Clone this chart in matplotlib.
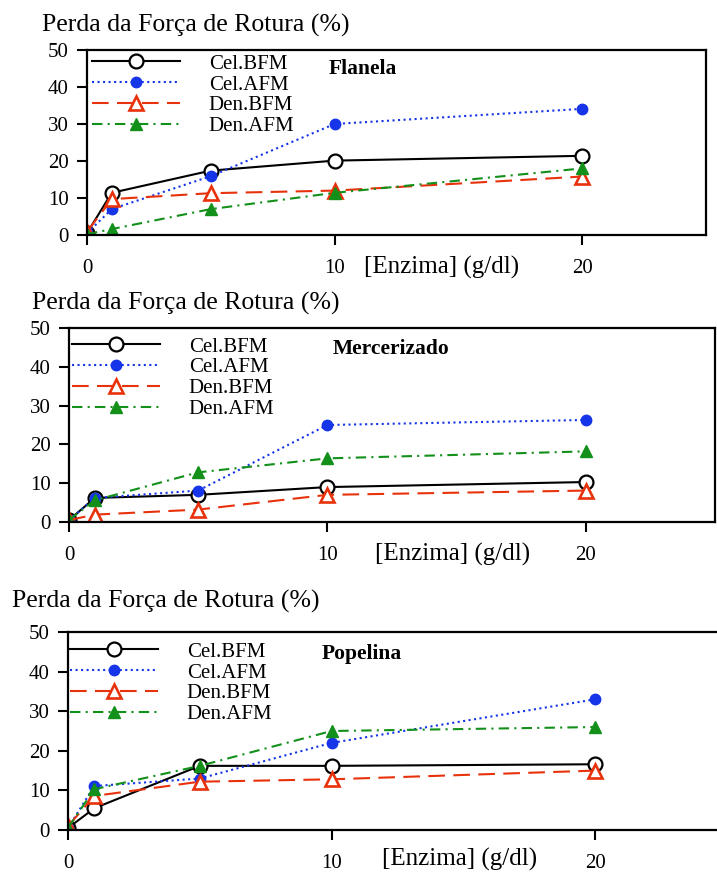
import matplotlib.pyplot as plt

plt.rcParams['font.family'] = ['Liberation Serif', 'DejaVu Serif']

W, H = 717, 873

dose = [0, 1, 5, 10, 20]
labels = ['Cel.BFM', 'Cel.AFM', 'Den.BFM', 'Den.AFM']
x_ticks = [0, 10, 20]
y_ticks = [0, 10, 20, 30, 40, 50]

flanela_cel_bfm = [0.5, 11.4, 17.4, 20.1, 21.4]
flanela_cel_afm = [0.5, 7.0, 15.9, 30.0, 34.1]
flanela_den_bfm = [0.9, 9.7, 11.3, 12.0, 15.8]
flanela_den_afm = [0.2, 1.6, 7.0, 11.4, 18.0]

merc_cel_bfm = [0.5, 6.2, 7.0, 9.0, 10.3]
merc_cel_afm = [0.5, 6.2, 8.1, 25.0, 26.3]
merc_den_bfm = [0.5, 1.9, 3.2, 7.0, 8.1]
merc_den_afm = [0.5, 5.6, 12.8, 16.4, 18.2]

pop_cel_bfm = [0.5, 5.5, 16.2, 16.2, 16.6]
pop_cel_afm = [0.5, 11.1, 13.0, 22.0, 33.0]
pop_den_bfm = [1.0, 8.6, 12.2, 12.8, 15.0]
pop_den_afm = [0.5, 10.3, 16.2, 25.0, 26.0]

styles = [
    dict(color='black', ls='-', marker='o', mfc='white', ms=10, mew=1.6),
    dict(color='#1634e8', ls=':', marker='o', ms=7.5),
    dict(color='#e8320c', ls=(0, (8, 4)), marker='^', mfc='white', ms=10, mew=1.9),
    dict(color='#12901a', ls=(0, (5, 2.5, 1, 2.5)), marker='^', ms=8),
]

# panel geometry in pixels: axes box (l, t, r, b), title, tag, legend, x label
panels = [
    dict(series=[flanela_cel_bfm, flanela_cel_afm, flanela_den_bfm, flanela_den_afm],
         name='Flanela', box=(87, 50, 706, 235), title=(42, 25), tag=(329, 69),
         leg=(90, 52), xlab=(442, 267)),
    dict(series=[merc_cel_bfm, merc_cel_afm, merc_den_bfm, merc_den_afm],
         name='Mercerizado', box=(69, 328, 715, 522), title=(32, 303), tag=(333, 349),
         leg=(70, 335), xlab=(453, 554)),
    dict(series=[pop_cel_bfm, pop_cel_afm, pop_den_bfm, pop_den_afm],
         name='Popelina', box=(68, 632, 727, 830), title=(12, 601), tag=(322, 654),
         leg=(68, 640), xlab=(460, 859)),
]

fig = plt.figure(figsize=(W / 100, H / 100), dpi=100)

for p in panels:
    l, t, r, b = p['box']
    ax = fig.add_axes([l / W, 1 - b / H, (r - l) / W, (b - t) / H])
    for vals, lab, st in zip(p['series'], labels, styles):
        ax.plot(dose, vals, label=lab, lw=1.5, **st)
    ax.set_xlim(0, 25)
    ax.set_ylim(0, 50)
    ax.set_xticks(x_ticks)
    ax.set_yticks(y_ticks)
    ax.tick_params(axis='y', direction='out', length=7, width=1.5, pad=6, labelsize=15)
    ax.tick_params(axis='x', direction='out', length=7, width=1.5, pad=10, labelsize=15)
    for s in ax.spines.values():
        s.set_linewidth(1.6)
    xx, xy = p['xlab']
    fig.text(xx / W, 1 - xy / H, '[Enzima] (g/dl)', ha='center', va='center', fontsize=18)
    tx, ty = p['title']
    fig.text(tx / W, 1 - ty / H, 'Perda da Força de Rotura (%)', fontsize=18.5,
             ha='left', va='center')
    nx, ny = p['tag']
    fig.text(nx / W, 1 - ny / H, p['name'], fontsize=15.5, fontweight='bold',
             ha='left', va='center')
    lx, ly = p['leg']
    ax.legend(loc='upper left', bbox_to_anchor=(lx / W, 1 - ly / H),
              bbox_transform=fig.transFigure, frameon=False, fontsize=15,
              handlelength=4.2, handletextpad=1.4, labelspacing=0.06,
              numpoints=1, borderaxespad=0, borderpad=0.1)

fig.savefig('out.png', dpi=100)
